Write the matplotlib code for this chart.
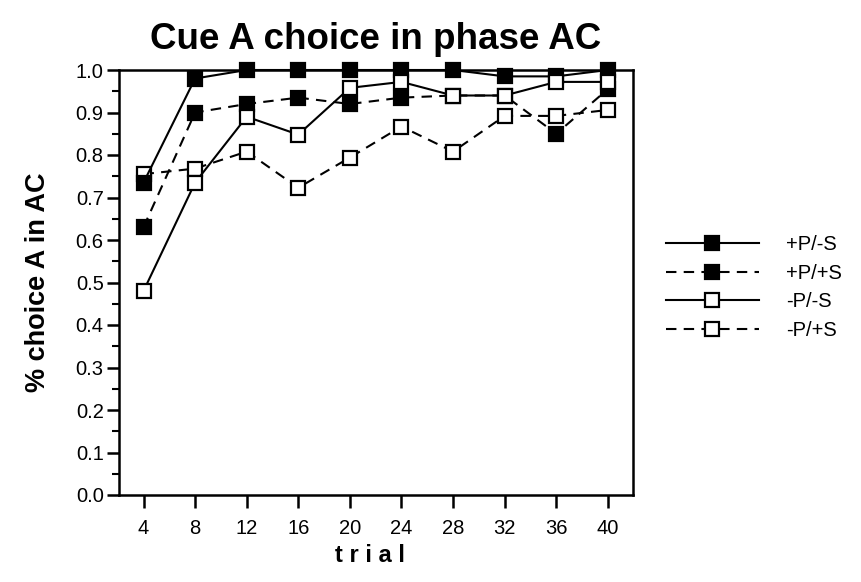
import matplotlib
matplotlib.use("Agg")
import matplotlib.pyplot as plt
from matplotlib.lines import Line2D
from matplotlib.ticker import MultipleLocator

plt.rcParams['font.family'] = ['Liberation Sans', 'DejaVu Sans']

trials = [4, 8, 12, 16, 20, 24, 28, 32, 36, 40]
pos_p_neg_s = [0.735, 0.98, 1.0, 1.0, 1.0, 1.0, 1.0, 0.985, 0.985, 1.0]
pos_p_pos_s = [0.63, 0.90, 0.92, 0.935, 0.92, 0.935, 0.94, 0.94, 0.85, 0.955]
neg_p_neg_s = [0.48, 0.735, 0.89, 0.848, 0.958, 0.972, 0.94, 0.94, 0.972, 0.972]
neg_p_pos_s = [0.755, 0.768, 0.808, 0.723, 0.794, 0.867, 0.808, 0.892, 0.892, 0.906]
labels = ['+P/-S', '+P/+S', '-P/-S', '-P/+S']
yticks = [0.0, 0.1, 0.2, 0.3, 0.4, 0.5, 0.6, 0.7, 0.8, 0.9, 1.0]

fig = plt.figure(figsize=(8.61, 5.82), dpi=100)
ax = fig.add_axes([119/861, 1-495/582, (633-119)/861, (495-70)/582])

dash = (0, (5, 3.5))
ms = 9.5
lw = 1.5
styles = [
    dict(ls='-', mfc='black'),
    dict(ls=dash, mfc='black'),
    dict(ls='-', mfc='white'),
    dict(ls=dash, mfc='white'),
]
series = [pos_p_neg_s, pos_p_pos_s, neg_p_neg_s, neg_p_pos_s]
handles = []
for i, (vals, st, lab) in enumerate(zip(series, styles, labels)):
    z = 3 if st['mfc'] == 'black' else 4
    if i == 3:
        z = 2.5
    ax.plot(trials, vals, color='black', linestyle=st['ls'], lw=lw,
            marker='s', ms=ms, mfc=st['mfc'], mec='black', mew=1.6,
            zorder=z, clip_on=False)
    handles.append(Line2D([], [], color='black', linestyle=st['ls'], lw=lw,
                          marker='s', ms=ms, mfc=st['mfc'], mec='black', mew=1.6))

ax.set_xlim(2.1, 41.95)
ax.set_ylim(0, 1)
ax.set_xticks(trials)
ax.set_yticks(yticks)
ax.set_yticklabels([f"{v:.1f}" for v in yticks])
ax.yaxis.set_minor_locator(MultipleLocator(0.05))
ax.tick_params(axis='both', which='major', direction='out', length=9, width=1.8,
               labelsize=14.5, color='black')
ax.tick_params(axis='y', which='minor', direction='out', length=5, width=1.5)
ax.tick_params(axis='x', pad=8)
ax.tick_params(axis='y', pad=2)
for s in ax.spines.values():
    s.set_linewidth(1.8)

ax.set_title('Cue A choice in phase AC', fontsize=26.5, fontweight='bold', pad=15)
ax.set_xlabel('t r i a l', fontsize=17, fontweight='bold', labelpad=6)
ax.xaxis.set_label_coords((370-119)/(633-119), -(556-495)/(495-70))
ax.xaxis.label.set_verticalalignment('center')
ax.set_ylabel('% choice A in AC', fontsize=19.5, fontweight='bold', labelpad=18)

leg = ax.legend(handles, labels, loc='upper left', bbox_to_anchor=(666/861, 1-235/582),
                bbox_transform=fig.transFigure, frameon=False, fontsize=14.5,
                handlelength=4.6, handletextpad=1.35, labelspacing=0.48,
                borderaxespad=0, borderpad=0)

fig.savefig('out.png', dpi=100)
